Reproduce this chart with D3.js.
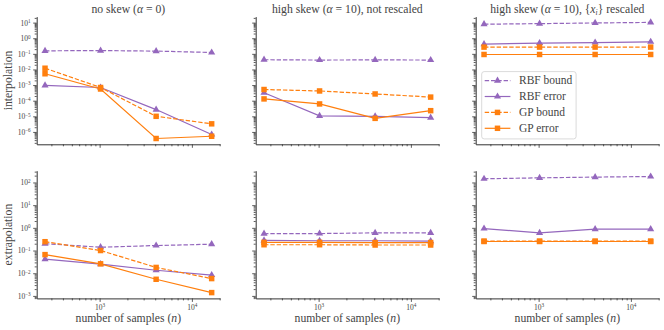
<!DOCTYPE html>
<html>
<head>
<meta charset="utf-8">
<script src="https://cdn.jsdelivr.net/npm/d3@7"></script>
<style>
  body { margin: 0; background: #fff; }
  svg text { font-family: "Liberation Serif", "DejaVu Serif", serif; fill: #444; }
</style>
</head>
<body>
<div id="chart-area"></div>
<script>
// number of samples on the x axis
const nSamples = [256, 1024, 4096, 16384];
const seriesNames = ["RBF bound", "RBF error", "GP bound", "GP error"];
const panelTitles = ["no skew (α = 0)", "high skew (α = 10), not rescaled", "high skew (α = 10), {x_i} rescaled"];
const rowLabels = ["interpolation", "extrapolation"];
const xMajorTicks = [1e3, 1e4];
const yMajorTicksTop = [1e-6, 1e-5, 1e-4, 1e-3, 1e-2, 1e-1, 1e0, 1e1];
const yMajorTicksBottom = [1e-3, 1e-2, 1e-1, 1e0, 1e1, 1e2];

// interpolation, no skew
const interpNoSkewRbfBound = [0.156, 0.162, 0.15, 0.122];
const interpNoSkewRbfError = [9.5e-4, 7.0e-4, 2.7e-5, 6.8e-7];
const interpNoSkewGpBound = [1.2e-2, 7.0e-4, 1.0e-5, 3.3e-6];
const interpNoSkewGpError = [5.3e-3, 5.6e-4, 3.8e-7, 5.3e-7];
// interpolation, high skew not rescaled
const interpSkewRbfBound = [0.042, 0.040, 0.041, 0.040];
const interpSkewRbfError = [3.2e-4, 1.07e-5, 1.0e-5, 8.3e-6];
const interpSkewGpBound = [5.2e-4, 4.2e-4, 2.7e-4, 1.7e-4];
const interpSkewGpError = [1.3e-4, 6.2e-5, 7.4e-6, 2.3e-5];
// interpolation, high skew rescaled
const interpRescRbfBound = [7.9, 8.6, 9.5, 10.3];
const interpRescRbfError = [0.42, 0.49, 0.53, 0.59];
const interpRescGpBound = [0.27, 0.27, 0.27, 0.27];
const interpRescGpError = [0.091, 0.091, 0.091, 0.091];

// extrapolation, no skew
const extrapNoSkewRbfBound = [0.2, 0.14, 0.166, 0.19];
const extrapNoSkewRbfError = [0.042, 0.025, 0.0135, 0.0083];
const extrapNoSkewGpBound = [0.245, 0.1, 0.018, 0.0058];
const extrapNoSkewGpError = [0.066, 0.026, 0.0054, 0.0014];
// extrapolation, high skew not rescaled
const extrapSkewRbfBound = [0.55, 0.56, 0.6, 0.6];
const extrapSkewRbfError = [0.28, 0.27, 0.27, 0.26];
const extrapSkewGpBound = [0.18, 0.18, 0.175, 0.175];
const extrapSkewGpError = [0.23, 0.23, 0.225, 0.225];
// extrapolation, high skew rescaled
const extrapRescRbfBound = [145, 160, 172, 183];
const extrapRescRbfError = [0.93, 0.6, 0.87, 0.87];
const extrapRescGpBound = [0.26, 0.26, 0.26, 0.26];
const extrapRescGpError = [0.25, 0.25, 0.25, 0.25];

const panels = [
    [[interpNoSkewRbfBound, interpNoSkewRbfError, interpNoSkewGpBound, interpNoSkewGpError],
     [interpSkewRbfBound, interpSkewRbfError, interpSkewGpBound, interpSkewGpError],
     [interpRescRbfBound, interpRescRbfError, interpRescGpBound, interpRescGpError]],
    [[extrapNoSkewRbfBound, extrapNoSkewRbfError, extrapNoSkewGpBound, extrapNoSkewGpError],
     [extrapSkewRbfBound, extrapSkewRbfError, extrapSkewGpBound, extrapSkewGpError],
     [extrapRescRbfBound, extrapRescRbfError, extrapRescGpBound, extrapRescGpError]]
];

const colors = ["#9467bd", "#9467bd", "#ff7f0e", "#ff7f0e"];
const dashed = [true, false, true, false];
const markerType = ["tri", "tri", "sq", "sq"];

const colLeft = [36.7, 255.7, 475.7],
    rowTop = [16.6, 170.7],
    pw = 183.3,
    ph = 127.7;

var svg = d3.select("#chart-area")
    .append("svg")
    .attr("width", 664)
    .attr("height", 330);

// log padding like matplotlib's 5% margins
function logExtent(vals) {
    const lo = Math.log10(d3.min(vals)), hi = Math.log10(d3.max(vals));
    const pad = (hi - lo) * 0.05;
    return [Math.pow(10, lo - pad), Math.pow(10, hi + pad)];
}

const x = d3.scaleLog().domain(logExtent(nSamples)).range([0, pw]);

function minorTicks(domain) {
    const out = [];
    const lo = Math.floor(Math.log10(domain[0])), hi = Math.ceil(Math.log10(domain[1]));
    for (let e = lo; e <= hi; e++) {
        for (let m = 2; m <= 9; m++) {
            const v = m * Math.pow(10, e);
            if (v >= domain[0] && v <= domain[1]) out.push(v);
        }
    }
    return out;
}

function supLabels(sel) {
    sel.selectAll(".tick text").each(function(d) {
        const t = d3.select(this);
        const ex = Math.round(Math.log10(d));
        t.text("");
        t.append("tspan").text("10");
        t.append("tspan").attr("dy", "-0.5em").attr("font-size", "5.2px")
            .text(ex < 0 ? "\u2212" + (-ex) : ex);
    });
}

const symTri = d3.symbol().type(d3.symbolTriangle).size(22);
const symSq = d3.symbol().type(d3.symbolSquare).size(30);

panels.forEach(function(row, r) {
    const allVals = [].concat(...row.map(p => [].concat(...p)));
    const y = d3.scaleLog().domain(logExtent(allVals)).range([ph, 0]);
    const yMajor = r === 0 ? yMajorTicksTop : yMajorTicksBottom;

    row.forEach(function(series, c) {
        const g = svg.append("g")
            .attr("transform", "translate(" + colLeft[c] + ", " + rowTop[r] + ")");

        // minor ticks
        g.append("g").attr("class", "minor")
            .attr("transform", "translate(0, " + ph + ")")
            .call(d3.axisBottom(x).tickValues(minorTicks(x.domain())).tickSize(2).tickFormat(""));
        g.append("g").attr("class", "minor")
            .call(d3.axisLeft(y).tickValues(minorTicks(y.domain())).tickSize(2).tickFormat(""));

        var xAxisCall = d3.axisBottom(x).tickValues(xMajorTicks).tickSize(3.5).tickSizeOuter(0).tickPadding(2.5);
        const xg = g.append("g")
            .attr("class", "x axis")
            .attr("transform", "translate(0, " + ph + ")")
            .call(xAxisCall);
        if (r === 1) supLabels(xg); else xg.selectAll(".tick text").remove();

        var yAxisCall = d3.axisLeft(y).tickValues(yMajor).tickSize(3.5).tickSizeOuter(0).tickPadding(2.5);
        const yg = g.append("g")
            .attr("class", "y axis")
            .call(yAxisCall);
        if (c === 0) supLabels(yg); else yg.selectAll(".tick text").remove();

        g.selectAll(".minor .domain").remove();
        g.selectAll(".tick line").attr("stroke", "#333").attr("stroke-width", 0.8);
        g.selectAll(".domain").attr("stroke", "#333").attr("stroke-width", 1);
        g.selectAll(".tick text").attr("font-size", "7.5px")
            .attr("font-family", "Liberation Serif");

        const line = d3.line()
            .x((d, i) => x(nSamples[i]))
            .y(d => y(d));

        series.forEach(function(vals, s) {
            g.append("path")
                .datum(vals)
                .attr("fill", "none")
                .attr("stroke", colors[s])
                .attr("stroke-width", 1.2)
                .attr("stroke-dasharray", dashed[s] ? "4.4,1.9" : null)
                .attr("d", line);
            g.selectAll(".m" + s)
                .data(vals)
                .enter()
                .append("path")
                .attr("class", "m" + s)
                .attr("transform", (d, i) => "translate(" + x(nSamples[i]) + "," + y(d) + ")")
                .attr("d", markerType[s] === "tri" ? symTri : symSq)
                .attr("fill", colors[s]);
        });

        if (r === 0) {
            svg.append("text")
                .attr("x", colLeft[c] + pw / 2)
                .attr("y", 12.5)
                .attr("text-anchor", "middle")
                .attr("font-size", "11.7px")
                .call(function(t) {
                    if (c === 0) {
                        t.append("tspan").text("no skew (");
                        t.append("tspan").attr("font-style", "italic").text("α");
                        t.append("tspan").text(" = 0)");
                    } else if (c === 1) {
                        t.append("tspan").text("high skew (");
                        t.append("tspan").attr("font-style", "italic").text("α");
                        t.append("tspan").text(" = 10), not rescaled");
                    } else {
                        t.append("tspan").text("high skew (");
                        t.append("tspan").attr("font-style", "italic").text("α");
                        t.append("tspan").text(" = 10), {");
                        t.append("tspan").attr("font-style", "italic").text("x");
                        t.append("tspan").attr("font-style", "italic").attr("font-size", "7.5px").attr("dy", 2).text("i");
                        t.append("tspan").attr("dy", -2).text("} rescaled");
                    }
                });
        }
        if (r === 1) {
            const lab = svg.append("text")
                .attr("x", colLeft[c] + pw / 2)
                .attr("y", 322)
                .attr("text-anchor", "middle")
                .attr("font-size", "11.7px");
            lab.append("tspan").text("number of samples (");
            lab.append("tspan").attr("font-style", "italic").text("n");
            lab.append("tspan").text(")");
        }
        if (c === 0) {
            svg.append("text")
                .attr("transform", "translate(12," + (rowTop[r] + ph / 2) + ") rotate(-90)")
                .attr("text-anchor", "middle")
                .attr("font-size", "11.7px")
                .text(rowLabels[r]);
        }

        // legend in the top right panel
        if (r === 0 && c === 2) {
            const lg = g.append("g").attr("transform", "translate(6, 55)");
            lg.append("rect")
                .attr("width", 94.4).attr("height", 67.3)
                .attr("rx", 2.5)
                .attr("fill", "white").attr("fill-opacity", 0.8)
                .attr("stroke", "#d0d0d0").attr("stroke-width", 0.8);
            seriesNames.forEach(function(name, s) {
                const yy = 9 + s * 15.9;
                lg.append("line")
                    .attr("x1", 3).attr("x2", 28.7)
                    .attr("y1", yy).attr("y2", yy)
                    .attr("stroke", colors[s]).attr("stroke-width", 1.2)
                    .attr("stroke-dasharray", dashed[s] ? "4.4,1.9" : null);
                lg.append("path")
                    .attr("transform", "translate(15.8," + yy + ")")
                    .attr("d", markerType[s] === "tri" ? symTri : symSq)
                    .attr("fill", colors[s]);
                lg.append("text")
                    .attr("x", 37.3).attr("y", yy + 3.8)
                    .attr("font-size", "11.5px")
                    .text(name);
            });
        }
    });
});
</script>
</body>
</html>
